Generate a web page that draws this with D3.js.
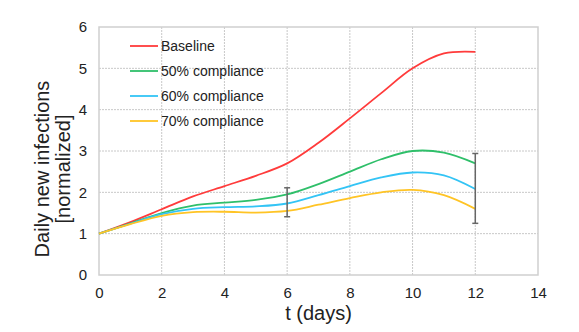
<!DOCTYPE html>
<meta charset="utf-8">
<script src="https://cdn.jsdelivr.net/npm/d3@7/dist/d3.min.js"></script>
<style>
body { margin: 0; background: #fff; }
text { font-family: "Liberation Sans", Arial, sans-serif; fill: #222; }
.grid line { stroke: #c8c8c8; stroke-width: 1px; stroke-dasharray: 2,1; }
path.series { fill: none; stroke-width: 1.8px; }
</style>
<body>
<script>

// data
var days = [0, 1, 2, 3, 4, 5, 6, 7, 8, 9, 10, 11, 12];
var baseline = [1, 1.28, 1.59, 1.9, 2.15, 2.4, 2.7, 3.2, 3.79, 4.4, 5.0, 5.36, 5.4];
var comp50 = [1, 1.25, 1.5, 1.68, 1.75, 1.82, 1.95, 2.2, 2.5, 2.8, 3.0, 2.96, 2.7];
var comp60 = [1, 1.24, 1.47, 1.6, 1.64, 1.66, 1.73, 1.93, 2.15, 2.36, 2.48, 2.41, 2.08];
var comp70 = [1, 1.23, 1.43, 1.52, 1.53, 1.51, 1.55, 1.7, 1.86, 2.0, 2.06, 1.93, 1.6];
var seriesNames = ["Baseline", "50% compliance", "60% compliance", "70% compliance"];
var seriesColors = ["#ff3b3b", "#2fbf6a", "#33c4f5", "#ffc425"];
var errDays = [6, 12];
var errLow = [1.41, 1.25];
var errHigh = [2.11, 2.94];
var xTicks = [0, 2, 4, 6, 8, 10, 12, 14];
var yTicks = [0, 1, 2, 3, 4, 5, 6];

var width = 579, height = 332;
var margin = {left: 99, right: 41, top: 27, bottom: 57};

var svg = d3.select("body").append("svg")
    .attr("width", width)
    .attr("height", height);

var x = d3.scaleLinear().domain([0, 14]).range([margin.left, width - margin.right]);
var y = d3.scaleLinear().domain([0, 6]).range([height - margin.bottom, margin.top]);

// grid
var grid = svg.append("g").attr("class", "grid");
grid.selectAll(".gx").data(xTicks.slice(1, -1)).enter().append("line")
    .attr("x1", function(d) { return x(d); }).attr("x2", function(d) { return x(d); })
    .attr("y1", y(0)).attr("y2", y(6));
grid.selectAll(".gy").data(yTicks.slice(1, -1)).enter().append("line")
    .attr("y1", function(d) { return y(d); }).attr("y2", function(d) { return y(d); })
    .attr("x1", x(0)).attr("x2", x(14));

// frame
svg.append("rect")
    .attr("x", x(0)).attr("y", y(6))
    .attr("width", x(14) - x(0)).attr("height", y(0) - y(6))
    .attr("fill", "none").attr("stroke", "#cfcfcf").attr("stroke-width", 1.5);

// axes
var xAxis = svg.append("g")
    .attr("transform", "translate(0," + y(0) + ")")
    .call(d3.axisBottom(x).tickValues(xTicks).tickFormat(d3.format("d")).tickSize(0).tickPadding(12));
var yAxis = svg.append("g")
    .attr("transform", "translate(" + x(0) + ",0)")
    .call(d3.axisLeft(y).tickValues(yTicks).tickFormat(d3.format("d")).tickSize(0).tickPadding(12));
[xAxis, yAxis].forEach(function(a) {
  a.select(".domain").remove();
  a.selectAll("text").style("font-size", "15px").style("font-family", "'Liberation Sans', Arial, sans-serif").attr("fill", "#222");
});

// lines
var allSeries = [baseline, comp50, comp60, comp70];
var line = d3.line()
    .x(function(d, i) { return x(days[i]); })
    .y(function(d) { return y(d); })
    .curve(d3.curveCatmullRom.alpha(0.5));

svg.selectAll("path.series")
    .data(allSeries)
    .enter()
    .append("path")
    .attr("class", "series")
    .attr("stroke", function(d, i) { return seriesColors[i]; })
    .attr("d", line);

// error bars
var eb = svg.append("g").attr("stroke", "#666").attr("stroke-width", 1.5);
errDays.forEach(function(d, i) {
  eb.append("line").attr("x1", x(d)).attr("x2", x(d)).attr("y1", y(errLow[i])).attr("y2", y(errHigh[i]));
  eb.append("line").attr("x1", x(d) - 3).attr("x2", x(d) + 3).attr("y1", y(errLow[i])).attr("y2", y(errLow[i]));
  eb.append("line").attr("x1", x(d) - 3).attr("x2", x(d) + 3).attr("y1", y(errHigh[i])).attr("y2", y(errHigh[i]));
});

// legend
var legend = svg.append("g");
seriesNames.forEach(function(name, i) {
  var ly = 46 + i * 25;
  legend.append("line")
      .attr("x1", 130).attr("x2", 158).attr("y1", ly).attr("y2", ly)
      .attr("stroke", seriesColors[i]).attr("stroke-width", 1.8);
  legend.append("text")
      .attr("x", 161).attr("y", ly + 5)
      .style("font-size", "14px")
      .text(name);
});

// axis titles
svg.append("text")
    .attr("x", (x(0) + x(14)) / 2)
    .attr("y", 320)
    .attr("text-anchor", "middle")
    .style("font-size", "20px")
    .text("t (days)");

var yt = svg.append("text")
    .attr("transform", "translate(49,169) rotate(-90)")
    .attr("text-anchor", "middle")
    .style("font-size", "20px");
yt.append("tspan").attr("x", 0).attr("y", 0).text("Daily new infections");
yt.append("tspan").attr("x", 0).attr("y", 21).text("[normalized]");

</script>
</body>
